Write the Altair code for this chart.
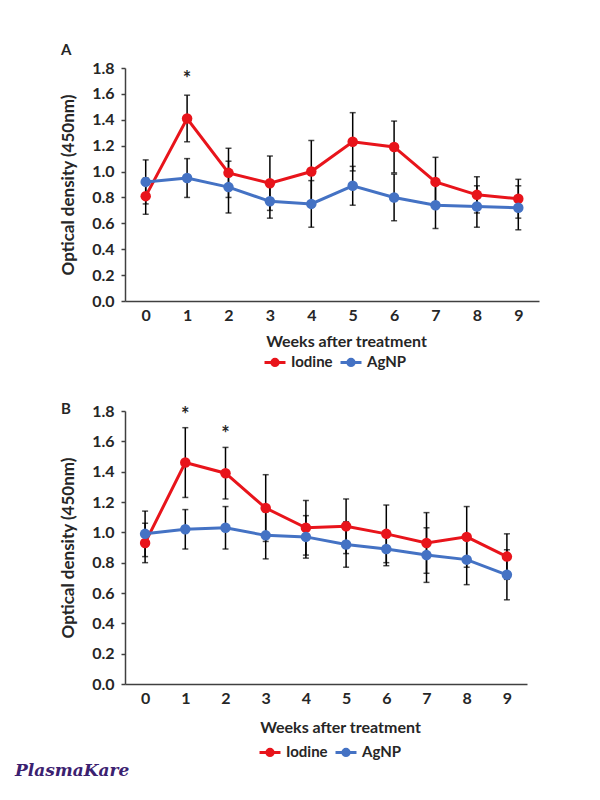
import altair as alt
import pandas as pd

weeks = [0, 1, 2, 3, 4, 5, 6, 7, 8, 9]
series_names = ["Iodine", "AgNP"]
series_colors = ["#e8141b", "#4472c4"]

# Panel A
a_iodine = [0.81, 1.41, 0.99, 0.91, 1.00, 1.23, 1.19, 0.92, 0.82, 0.79]
a_iodine_err = [0.14, 0.18, 0.19, 0.21, 0.24, 0.225, 0.20, 0.19, 0.14, 0.15]
a_agnp = [0.92, 0.95, 0.88, 0.77, 0.75, 0.89, 0.80, 0.74, 0.73, 0.72]
a_agnp_err = [0.17, 0.15, 0.20, 0.13, 0.18, 0.15, 0.18, 0.18, 0.16, 0.17]
a_star_weeks = [1]

# Panel B
b_iodine = [0.93, 1.46, 1.39, 1.16, 1.03, 1.04, 0.99, 0.93, 0.97, 0.84]
b_iodine_err = [0.13, 0.23, 0.17, 0.22, 0.18, 0.18, 0.19, 0.20, 0.20, 0.15]
b_agnp = [0.99, 1.02, 1.03, 0.98, 0.97, 0.92, 0.89, 0.85, 0.82, 0.72]
b_agnp_err = [0.15, 0.13, 0.14, 0.155, 0.14, 0.15, 0.11, 0.18, 0.165, 0.165]
b_star_weeks = [1, 2]

FONT = "Lato"
TXT = "#262626"
AX = "#404040"

# legend symbol: short line with a dot (concentric circles drawn by stroke)
SYM = ("M-1,0L1,0"
       "M-0.3,0A0.3,0.3,0,1,1,0.3,0A0.3,0.3,0,1,1,-0.3,0"
       "M-0.15,0A0.15,0.15,0,1,1,0.15,0A0.15,0.15,0,1,1,-0.15,0"
       "M-0.05,0A0.05,0.05,0,1,1,0.05,0A0.05,0.05,0,1,1,-0.05,0")


def make_df(iod, iod_err, agn, agn_err):
    rows = []
    for name, vals, errs in (("Iodine", iod, iod_err), ("AgNP", agn, agn_err)):
        for w, v, e in zip(weeks, vals, errs):
            rows.append({"week": w, "series": name, "value": v,
                         "lo": v - e, "hi": v + e})
    return pd.DataFrame(rows)


def panel(iod, iod_err, agn, agn_err, star_weeks, w, h, label, title_offset,
          leg_x, leg_y, star_dy, xtitle_pad, logo=False):
    df = make_df(iod, iod_err, agn, agn_err)
    stars = pd.DataFrame({"week": star_weeks,
                          "hi": [iod[k] + iod_err[k] for k in star_weeks]})
    xenc = alt.X("week:O", scale=alt.Scale(type="point", padding=0.5),
                 axis=alt.Axis(title="Weeks after treatment", labelAngle=0,
                               ticks=False, labelPadding=6,
                               titlePadding=xtitle_pad,
                               titleX=w / 2 + 14))
    yscale = alt.Scale(domain=[0, 1.8], nice=False)
    ytitle = "Optical density (450nm)"
    yaxis = alt.Axis(values=[0, 0.2, 0.4, 0.6, 0.8, 1.0, 1.2, 1.4, 1.6, 1.8],
                     format=".1f", grid=False, tickSize=4, labelPadding=7,
                     titlePadding=14, titleFontSize=17)
    color = alt.Color("series:N",
                      scale=alt.Scale(domain=series_names, range=series_colors),
                      legend=alt.Legend(title=None, orient="none",
                                        direction="horizontal",
                                        legendX=leg_x, legendY=leg_y,
                                        symbolType=SYM, symbolSize=440,
                                        symbolStrokeWidth=3,
                                        labelOffset=4, columnPadding=1,
                                        labelFont=FONT, labelFontSize=15,
                                        labelFontWeight="bold",
                                        labelColor=TXT))
    base = alt.Chart(df).encode(x=xenc)
    bars = base.mark_rule(color="black", strokeWidth=1.5).encode(
        y=alt.Y("lo:Q", scale=yscale, axis=yaxis, title=ytitle), y2="hi:Q")
    cap_lo = base.mark_tick(color="black", thickness=1.5, size=6).encode(
        y=alt.Y("lo:Q", scale=yscale, axis=yaxis, title=ytitle))
    cap_hi = base.mark_tick(color="black", thickness=1.5, size=6).encode(
        y=alt.Y("hi:Q", scale=yscale, axis=yaxis, title=ytitle))
    line = base.mark_line(strokeWidth=3).encode(
        y=alt.Y("value:Q", scale=yscale, axis=yaxis, title=ytitle),
        color=color)
    pts = base.mark_point(filled=True, size=110, opacity=1).encode(
        y=alt.Y("value:Q", scale=yscale, axis=yaxis, title=ytitle),
        color=color)
    star = alt.Chart(stars).mark_text(
        text="*", font=FONT, fontSize=20, fontWeight="bold", color=TXT,
        baseline="middle", dy=star_dy).encode(
        x=alt.X("week:O", scale=alt.Scale(type="point", padding=0.5)),
        y=alt.Y("hi:Q", scale=yscale, axis=yaxis, title=ytitle))
    layers = [bars, cap_lo, cap_hi, line, pts, star]
    if logo:
        logo_df = pd.DataFrame({"t": ["PlasmaKare"]})
        layers.append(alt.Chart(logo_df).mark_text(
            font="DejaVu Serif", fontSize=17, fontStyle="italic",
            fontWeight="bold", color="#3b2170", align="left",
            baseline="alphabetic").encode(
            text="t:N", x=alt.value(-110), y=alt.value(h + 92)))
    return alt.layer(*layers).properties(
        width=w, height=h,
        title=alt.TitleParams(label, anchor="start", frame="group", dx=-64,
                              font=FONT, fontSize=15, fontWeight="bold",
                              color=TXT, offset=title_offset))


pa = panel(a_iodine, a_iodine_err, a_agnp, a_agnp_err, a_star_weeks,
           414, 233, "A", 2, 138, 282, -15, 10)
pb = panel(b_iodine, b_iodine_err, b_agnp, b_agnp_err, b_star_weeks,
           402, 273, "B", -14, 133, 329, -12, 13, logo=True)

chart = alt.vconcat(pa, pb, spacing=30).resolve_scale(
    color="independent").resolve_legend(color="independent").properties(
    padding={"top": 35, "left": 7, "right": 5, "bottom": 5},
    background="white"
).configure_view(stroke=None).configure_axis(
    labelFont=FONT, labelFontSize=16, labelFontWeight="bold", labelColor=TXT,
    titleFont=FONT, titleFontSize=16, titleFontWeight="bold", titleColor=TXT,
    domainColor=AX, domainWidth=1.5, tickColor=AX, tickWidth=1.5
)

chart.save("out.html", embed_options={"renderer": "svg", "actions": False})
